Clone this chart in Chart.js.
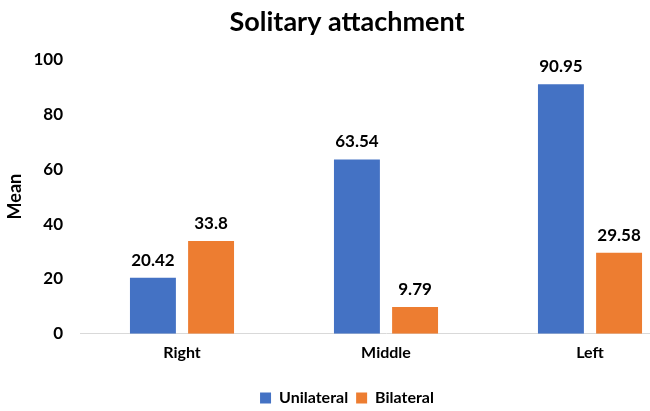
<!DOCTYPE html>
<html>
<head>
<meta charset="utf-8">
<script src="https://cdn.jsdelivr.net/npm/chart.js@4"></script>
<style>
  html, body { margin: 0; padding: 0; overflow: hidden; background: #fff; }
  #wrap { width: 692px; height: 411px; }
</style>
</head>
<body>
<div id="wrap"><canvas id="meanChart" width="692" height="411"></canvas></div>
<script>
const categories = ['Right', 'Middle', 'Left'];
const unilateral = [20.42, 63.54, 90.95];
const bilateral = [33.8, 9.79, 29.58];
const yTicks = [0, 20, 40, 60, 80, 100];

const FONT = 'Lato, "Open Sans", sans-serif';

// value labels above each bar
const barLabels = {
    id: 'barLabels',
    afterDatasetsDraw(chart) {
        const ctx = chart.ctx;
        ctx.save();
        ctx.font = 'bold 17px ' + FONT;
        ctx.fillStyle = '#000';
        ctx.textAlign = 'center';
        ctx.textBaseline = 'bottom';
        chart.data.datasets.forEach(function(ds, i) {
            chart.getDatasetMeta(i).data.forEach(function(bar, j) {
                ctx.fillText(String(ds.data[j]), bar.x, bar.y - 9);
            });
        });
        ctx.restore();
    }
};

new Chart(document.getElementById('meanChart').getContext('2d'), {
    type: 'bar',
    data: {
        labels: categories,
        datasets: [{
            label: 'Unilateral',
            data: unilateral,
            backgroundColor: '#4472C4',
            categoryPercentage: 0.57,
            barPercentage: 0.79
        }, {
            label: 'Bilateral',
            data: bilateral,
            backgroundColor: '#ED7D31',
            categoryPercentage: 0.57,
            barPercentage: 0.79
        }]
    },
    options: {
        responsive: false,
        animation: false,
        layout: { padding: { left: 2, right: 0, top: 6, bottom: -5 } },
        scales: {
            x: {
                grid: { display: false, drawTicks: false },
                border: { color: '#d9d9d9', width: 1 },
                ticks: { color: '#000', font: { family: FONT, size: 16, weight: 'bold' }, padding: 9 },
                afterFit(axis) { axis.height += 11; }
            },
            y: {
                min: 0,
                max: 100,
                afterBuildTicks(axis) { axis.ticks = yTicks.map(v => ({ value: v })); },
                afterFit(axis) { axis.width = 78; },
                grid: { display: false, drawTicks: false },
                border: { display: false },
                ticks: { color: '#000', font: { family: FONT, size: 17, weight: 'bold' }, padding: 17 },
                title: { display: true, text: 'Mean', color: '#000', font: { family: FONT, size: 18, weight: 'bold' }, padding: { top: 2, bottom: 0 } }
            }
        },
        plugins: {
            title: {
                display: true,
                text: 'Solitary attachment',
                color: '#000',
                font: { family: FONT, size: 27, weight: 'bold' },
                padding: { top: 0, bottom: 21 }
            },
            legend: {
                position: 'bottom',
                labels: {
                    color: '#000',
                    font: { family: FONT, size: 16, weight: 'bold' },
                    boxWidth: 11,
                    boxHeight: 11,
                    padding: 8
                }
            },
            tooltip: { enabled: false }
        }
    },
    plugins: [barLabels]
});
</script>
</body>
</html>
